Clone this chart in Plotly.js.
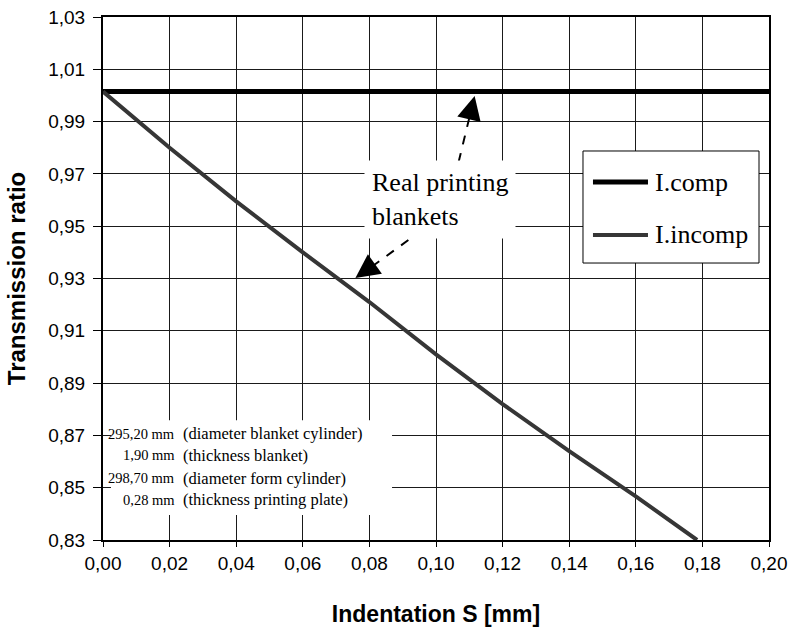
<!DOCTYPE html>
<html>
<head>
<meta charset="utf-8">
<script src="https://cdn.plot.ly/plotly-3.0.1.min.js"></script>
<style>html,body{margin:0;padding:0;background:#fff;}#chart{width:795px;height:628px;}</style>
</head>
<body>
<div id="chart"></div>
<script>
// Data
const seriesNames = ["I.comp", "I.incomp"];
const compX = [0, 0.05, 0.10, 0.15, 0.20];
const compY = [1.0015, 1.0015, 1.0015, 1.0015, 1.0015];
const incompX = [0, 0.02, 0.04, 0.06, 0.08, 0.10, 0.12, 0.14, 0.16, 0.1784];
const incompY = [1.0015, 0.980, 0.9595, 0.940, 0.921, 0.901, 0.882, 0.864, 0.8467, 0.83];
const noteValues = ["295,20 mm", "1,90 mm", "298,70 mm", "0,28 mm"];
const noteLabels = ["(diameter blanket cylinder)", "(thickness blanket)", "(diameter form cylinder)", "(thickness printing plate)"];
const calloutText = "Real printing<br>blankets";

const sans = "Liberation Sans, Arial, sans-serif";
const serif = "Liberation Serif, Times New Roman, serif";
const compStyle = {color: "#000000", width: 5};
const incompStyle = {color: "#363636", width: 4};

const traces = [
  {x: compX, y: compY, name: seriesNames[0], type: "scatter", mode: "lines", line: compStyle, showlegend: false},
  {x: incompX, y: incompY, name: seriesNames[1], type: "scatter", mode: "lines", line: incompStyle, showlegend: false}
];

const noteY = [0.2027, 0.1625, 0.1185, 0.0765];
const annotations = [];
noteValues.forEach((v, i) => {
  annotations.push({xref: "paper", yref: "paper", x: 0.111, y: noteY[i], xanchor: "right", yanchor: "middle",
    text: v, showarrow: false, font: {family: serif, size: 14.5, color: "#000"}});
  annotations.push({xref: "paper", yref: "paper", x: 0.117, y: noteY[i], xanchor: "left", yanchor: "middle",
    text: noteLabels[i], showarrow: false, font: {family: serif, size: 16.5, color: "#000"}});
});
annotations.push({xref: "x", yref: "y", x: 0.0785, y: 0.9604, xanchor: "left", yanchor: "middle", align: "left",
  text: calloutText, showarrow: false, bgcolor: "#ffffff", borderpad: 7,
  font: {family: serif, size: 26, color: "#000"}});
// arrowheads of the dashed callout arrows
annotations.push({xref: "x", yref: "y", x: 0.1116, y: 0.9998, ax: -3.3, ay: 13.6, text: "",
  showarrow: true, arrowhead: 2, arrowsize: 2.4, arrowwidth: 2, arrowcolor: "#000", standoff: 0});
annotations.push({xref: "x", yref: "y", x: 0.0758, y: 0.9302, ax: 11.4, ay: -8.2, text: "",
  showarrow: true, arrowhead: 2, arrowsize: 2.4, arrowwidth: 2, arrowcolor: "#000", standoff: 0});
// legend text
annotations.push({xref: "paper", yref: "paper", x: 0.8258, y: 0.6845, xanchor: "left", yanchor: "middle",
  text: seriesNames[0], showarrow: false, font: {family: serif, size: 26, color: "#000"}});
annotations.push({xref: "paper", yref: "paper", x: 0.8258, y: 0.5832, xanchor: "left", yanchor: "middle",
  text: seriesNames[1], showarrow: false, font: {family: serif, size: 26, color: "#000"}});

const shapes = [
  // white panel behind the note text
  {type: "rect", xref: "paper", yref: "paper", x0: 0.012, x1: 0.434, y0: 0.048, y1: 0.229,
   fillcolor: "#ffffff", line: {width: 0}, layer: "above"},
  // dashed arrow shafts
  {type: "line", xref: "x", yref: "y", x0: 0.1068, y0: 0.9746, x1: 0.1106, y1: 0.9946,
   line: {color: "#000", width: 2, dash: "dash"}},
  {type: "line", xref: "x", yref: "y", x0: 0.0917, y0: 0.9447, x1: 0.0794, y1: 0.9333,
   line: {color: "#000", width: 2, dash: "dash"}},
  // legend box and samples
  {type: "rect", xref: "paper", yref: "paper", x0: 0.7207, x1: 0.985, y0: 0.5296, y1: 0.7438,
   fillcolor: "#ffffff", line: {color: "#000", width: 1}, layer: "above"},
  {type: "line", xref: "paper", yref: "paper", x0: 0.7357, x1: 0.8183, y0: 0.6845, y1: 0.6845,
   line: compStyle, layer: "above"},
  {type: "line", xref: "paper", yref: "paper", x0: 0.7357, x1: 0.8183, y0: 0.5832, y1: 0.5832,
   line: incompStyle, layer: "above"}
];

const layout = {
  width: 795, height: 628,
  margin: {l: 103, r: 26, t: 17, b: 88, pad: 0},
  paper_bgcolor: "#ffffff", plot_bgcolor: "#ffffff",
  separators: ",.",
  font: {family: sans, color: "#000"},
  showlegend: false,
  xaxis: {range: [0, 0.2], tick0: 0, dtick: 0.02, tickformat: ".2f",
    showgrid: true, gridcolor: "#1a1a1a", gridwidth: 1, zeroline: false,
    showline: true, linecolor: "#000", linewidth: 2, mirror: true,
    ticks: "outside", ticklen: 5, tickcolor: "#000", tickwidth: 1,
    tickfont: {family: sans, size: 19, color: "#000"},
    automargin: false,
    title: {text: "Indentation S [mm]", standoff: 33, font: {family: sans, size: 23, weight: "bold", color: "#000"}}},
  yaxis: {range: [0.83, 1.03], tick0: 0.83, dtick: 0.02, tickformat: ".2f",
    showgrid: true, gridcolor: "#1a1a1a", gridwidth: 1, zeroline: false,
    showline: true, linecolor: "#000", linewidth: 2, mirror: true,
    ticks: "outside", ticklen: 8, tickcolor: "#000", tickwidth: 1,
    ticklabelstandoff: 4,
    tickfont: {family: sans, size: 19, color: "#000"},
    automargin: false,
    title: {text: "Transmission ratio", standoff: 16, font: {family: sans, size: 24, weight: "bold", color: "#000"}}},
  annotations: annotations,
  shapes: shapes
};

Plotly.newPlot("chart", traces, layout, {displayModeBar: false, staticPlot: true});
</script>
</body>
</html>
